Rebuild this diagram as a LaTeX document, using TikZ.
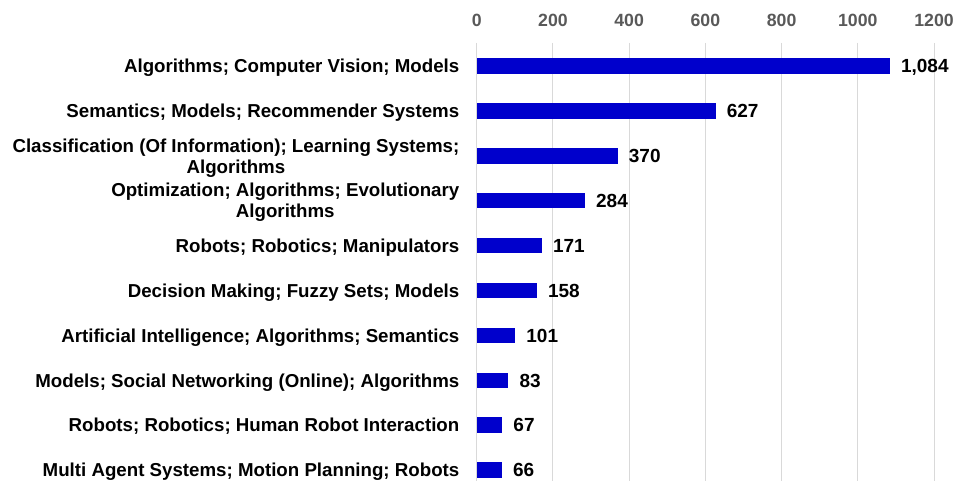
\documentclass[tikz,border=0pt]{standalone}
\usepackage{fontspec}
\setmainfont{Liberation Sans}
\definecolor{barblue}{HTML}{0000CC}
\definecolor{gridgray}{HTML}{D9D9D9}
\definecolor{ticktext}{HTML}{595959}
\begin{document}
\begin{tikzpicture}[x=1bp,y=-1bp,
  gridline/.style={draw=gridgray,line width=1bp},
  ticklabel/.style={inner sep=0,anchor=base,text=ticktext,font=\fontsize{17.7bp}{20bp}\selectfont\bfseries},
  catlabel/.style={inner sep=0,align=center,font=\fontsize{18.7bp}{21bp}\selectfont\bfseries},
  valuelabel/.style={inner sep=0,anchor=base west,font=\fontsize{19bp}{21bp}\selectfont\bfseries},
  barfill/.style={fill=barblue}]
\useasboundingbox (0,0) rectangle (959,481);
\foreach \v in {0,200,...,1200}{
  \pgfmathsetmacro\gx{476.7+\v*0.3811}
  \draw[gridline] (\gx,43) -- (\gx,481);
  \node[ticklabel] (t\v) at (\gx,26.7) {\v};
}
\foreach \i/\val/\shown/\lab/\two in {
  0/1084/{1,084}/{Algorithms; Computer Vision; Models}/0,
  1/627/{627}/{Semantics; Models; Recommender Systems}/0,
  2/370/{370}/{Classification (Of Information); Learning Systems;\\Algorithms}/1,
  3/284/{284}/{Optimization; Algorithms; Evolutionary\\Algorithms}/1,
  4/171/{171}/{Robots; Robotics; Manipulators}/0,
  5/158/{158}/{Decision Making; Fuzzy Sets; Models}/0,
  6/101/{101}/{Artificial Intelligence; Algorithms; Semantics}/0,
  7/83/{83}/{Models; Social Networking (Online); Algorithms}/0,
  8/67/{67}/{Robots; Robotics; Human Robot Interaction}/0,
  9/66/{66}/{Multi Agent Systems; Motion Planning; Robots}/0}{
  \pgfmathsetmacro\yc{66+\i*44.9}
  \pgfmathsetmacro\xe{476.7+\val*0.3811}
  \path[barfill] (476.7,\yc-7.8) rectangle (\xe,\yc+7.8);
  \node[valuelabel] (v\i) at (\xe+11,\yc+6.7) {\shown};
  \ifnum\two=1
    \node[catlabel,anchor=east] (c\i) at (459.5,\yc+2) {\lab};
  \else
    \node[catlabel,anchor=base east] (c\i) at (459.5,\yc+6.7) {\lab};
  \fi
}
\end{tikzpicture}
\end{document}
